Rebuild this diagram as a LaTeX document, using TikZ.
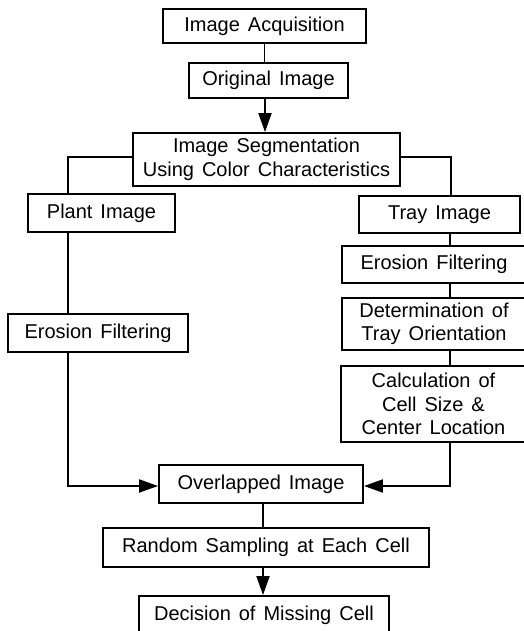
\documentclass[tikz,border=0pt]{standalone}
\usepackage{fontspec}
\setmainfont{Liberation Sans}
\usetikzlibrary{arrows.meta}
\begin{document}
\begin{tikzpicture}[x=1pt,y=-1pt,
  box/.style={draw, line width=1.9pt, inner sep=0pt, align=center,
    font={\fontsize{20}{23.5}\selectfont\spaceskip=8pt\relax}},
  link/.style={line width=1.9pt},
  arr/.style={line width=1.9pt, -{Triangle[length=19pt,width=13pt]}}]
\useasboundingbox (0,0) rectangle (523,631);
\node[box, minimum width=203pt, minimum height=34pt] (acq) at (264.5,26) {Image Acquisition};
\node[box, minimum width=159pt, minimum height=35pt] (orig) at (268.5,80.5) {Original Image};
\node[box, minimum width=267pt, minimum height=53pt] (seg) at (266.5,159.5) {Image Segmentation\\Using Color Characteristics};
\node[box, minimum width=147pt, minimum height=38pt] (plant) at (101.5,213) {Plant Image};
\node[box, minimum width=161pt, minimum height=37pt] (tray) at (439.5,214.5) {Tray Image};
\node[box, minimum width=184pt, minimum height=37pt] (eroR) at (434,264.5) {Erosion Filtering};
\node[box, minimum width=184pt, minimum height=52pt] (det) at (434,324) {Determination of\\Tray Orientation};
\node[box, minimum width=185pt, minimum height=76pt] (calc) at (433.5,404) {Calculation of\\Cell Size \&\\Center Location};
\node[box, minimum width=180pt, minimum height=38pt] (eroL) at (98,333) {Erosion Filtering};
\node[box, minimum width=204pt, minimum height=38pt] (over) at (261,484) {Overlapped Image};
\node[box, minimum width=326pt, minimum height=39pt] (rand) at (266,547.5) {Random Sampling at Each Cell};
\node[box, minimum width=250pt, minimum height=38pt] (dec) at (264,615) {Decision of Missing Cell};

\draw[link] (acq.south) -- (orig.north -| acq.south);
\draw[arr] ([xshift=-3.5pt]orig.south) -- ([xshift=-3.5pt]orig.south |- seg.north);
\draw[link] ([yshift=2.5pt]seg.west) -| ([xshift=-33.5pt]plant.north);
\draw[link] ([yshift=2.5pt]seg.east) -| ([xshift=11.5pt]tray.north);
\draw[link] ([xshift=10.5pt]tray.south) -- ([xshift=16pt]eroR.north);
\draw[link] ([xshift=16pt]eroR.south) -- ([xshift=16pt]det.north);
\draw[link] ([xshift=16pt]det.south) -- ([xshift=16.5pt]calc.north);
\draw[link] ([xshift=-33.5pt]plant.south) -- ([xshift=-30pt]eroL.north);
\draw[arr] ([xshift=-30pt]eroL.south) |- ([yshift=-2pt]over.west);
\draw[arr] ([xshift=16.5pt]calc.south) |- ([yshift=-2pt]over.east);
\draw[link] ([xshift=2pt]over.south) -- ([xshift=-3pt]rand.north);
\draw[arr] ([xshift=-3pt]rand.south) -- ([xshift=-1pt]dec.north);
\end{tikzpicture}
\end{document}
